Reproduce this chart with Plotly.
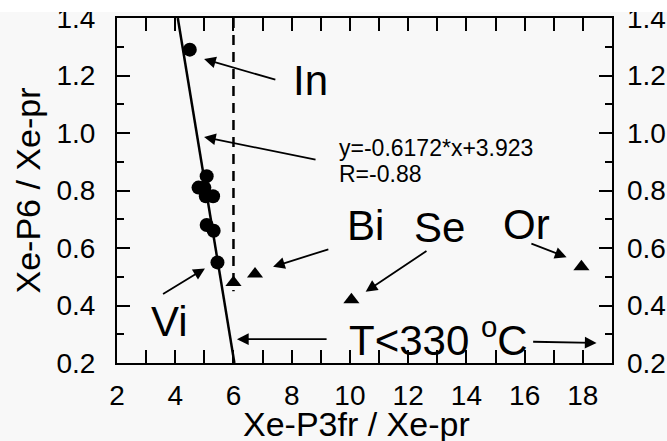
import plotly.graph_objects as go

# Fluid-inclusion Xe ratios
circle_x = [4.5, 5.08, 4.8, 5.0, 5.05, 5.3, 5.08, 5.32, 5.45]
circle_y = [1.29, 0.85, 0.81, 0.81, 0.78, 0.78, 0.68, 0.66, 0.55]
tri_x = [6.0, 6.74, 10.05, 17.95]
tri_y = [0.48, 0.51, 0.42, 0.535]

# Linear fit through the circle group
fit_slope = -0.6172
fit_intercept = 3.923
fit_r = -0.88

# Vertical boundary
boundary_x = 6.0
boundary_y = [1.4, 0.45]

x_range = [2, 19]
y_range = [0.2, 1.4]
x_tick_start, x_tick_step, x_minor_step = 2, 2, 1
y_tick_start, y_tick_step, y_minor_step = 0.2, 0.2, 0.1

FONT = "Liberation Sans, Arial, sans-serif"
BG = "#f8f8f8"

fit_y = [y_range[1], y_range[0]]
fit_x = [(y - fit_intercept) / fit_slope for y in fit_y]

fig = go.Figure()
fig.add_trace(go.Scatter(x=fit_x, y=fit_y, mode="lines",
                         line=dict(color="black", width=2.5), showlegend=False))
fig.add_trace(go.Scatter(x=[boundary_x, boundary_x], y=boundary_y, mode="lines",
                         line=dict(color="black", width=2.5, dash="10px,7px"),
                         showlegend=False))
fig.add_trace(go.Scatter(x=circle_x, y=circle_y, mode="markers",
                         marker=dict(symbol="circle", size=14, color="black"),
                         showlegend=False))
fig.add_trace(go.Scatter(x=tri_x, y=tri_y, mode="markers", yaxis="y2",
                         marker=dict(symbol="triangle-up", size=14, color="black"),
                         showlegend=False))

axis_common = dict(
    showline=True, linecolor="black", linewidth=2, mirror="allticks",
    ticks="inside", ticklen=13, tickwidth=2, tickcolor="black",
    showgrid=False, zeroline=False, automargin=False,
    tickfont=dict(family=FONT, size=28, color="black"),
)
minor_common = dict(ticks="inside", ticklen=7, tickwidth=2, tickcolor="black", showgrid=False)

fig.update_layout(
    width=667, height=441,
    margin=dict(l=117, r=55, t=18, b=78),
    paper_bgcolor=BG, plot_bgcolor=BG,
    xaxis=dict(range=x_range, tickmode="linear", tick0=x_tick_start, dtick=x_tick_step,
               ticklabelstandoff=6,
               minor=dict(dtick=x_minor_step, tick0=x_tick_start, **minor_common),
               **axis_common),
    yaxis=dict(range=y_range, tickmode="linear", tick0=y_tick_start, dtick=y_tick_step,
               tickformat=".1f", ticklabelstandoff=14,
               minor=dict(dtick=y_minor_step, tick0=y_tick_start, **minor_common),
               title=dict(text="Xe-P6 / Xe-pr", font=dict(family=FONT, size=34, color="black"),
                          standoff=6),
               **axis_common),
    yaxis2=dict(range=y_range, tickmode="linear", tick0=y_tick_start, dtick=y_tick_step,
                tickformat=".1f", overlaying="y", side="right", automargin=False,
                showline=False, ticks="", showgrid=False, zeroline=False, ticklabelstandoff=14,
                tickfont=dict(family=FONT, size=28, color="black")),
    showlegend=False,
)

# x-axis title, sitting just under the tick labels
fig.add_annotation(text="Xe-P3fr / Xe-pr", xref="paper", yref="paper", x=0.483, y=-0.115,
                   xanchor="center", yanchor="top", showarrow=False,
                   font=dict(family=FONT, size=34, color="black"))

# White band across the top edge of the page
fig.add_shape(type="rect", xref="paper", yref="paper", x0=-0.3, x1=1.2,
              y0=1.0 + 6 / 345, y1=1.2, fillcolor="white", line=dict(width=0), layer="above")


def label(text, x, y, size=42, xanchor="center"):
    fig.add_annotation(x=x, y=y, xref="x", yref="y", text=text, showarrow=False,
                       xanchor=xanchor, yanchor="middle",
                       font=dict(family=FONT, size=size, color="black"))


def arrow(x0, y0, x1, y1):
    fig.add_annotation(x=x1, y=y1, ax=x0, ay=y0, xref="x", yref="y", axref="x", ayref="y",
                       text="", showarrow=True, arrowhead=2, arrowsize=1.3, arrowwidth=1.8,
                       arrowcolor="black", standoff=0, startstandoff=0)


label("In", 8.63, 1.184)
label("Bi", 10.55, 0.68)
label("Se", 13.09, 0.67)
label("Or", 16.05, 0.683)
label("Vi", 3.82, 0.345)
label("T&lt;330 <sup>o</sup>C", 13.05, 0.291)
label(f"y={fit_slope}*x+{fit_intercept}", 9.555, 0.948, size=23, xanchor="left")
label(f"R={fit_r}", 9.555, 0.857, size=23, xanchor="left")

arrow(7.49, 1.184, 4.99, 1.257)
arrow(8.87, 0.906, 4.99, 0.986)
arrow(9.31, 0.597, 7.36, 0.535)
arrow(12.68, 0.593, 10.54, 0.448)
arrow(16.18, 0.617, 17.44, 0.568)
arrow(3.53, 0.437, 5.02, 0.529)
arrow(9.25, 0.283, 6.12, 0.283)
arrow(16.24, 0.274, 18.47, 0.27)

fig.write_html("out.html")
